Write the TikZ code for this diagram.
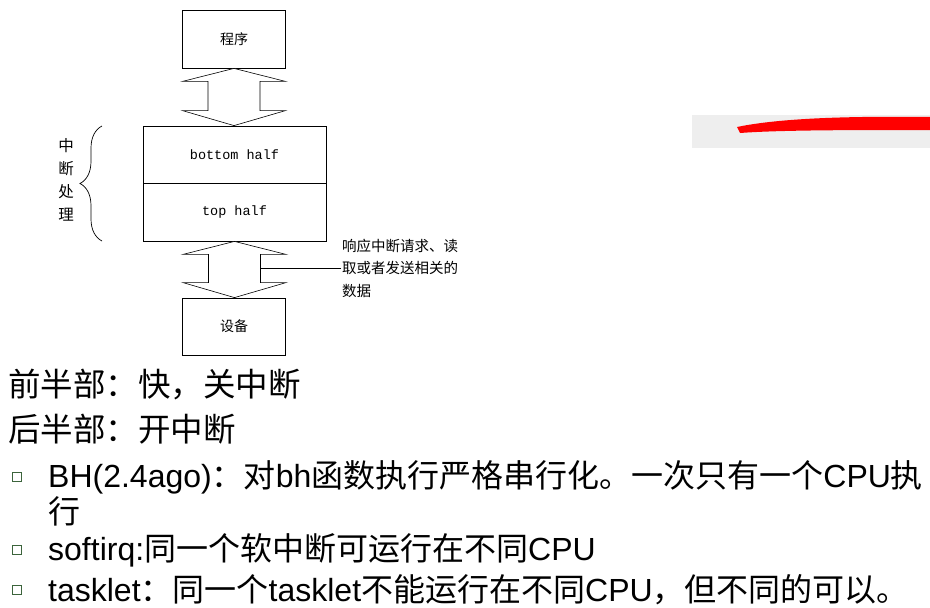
\documentclass[tikz,border=0pt]{standalone}
\usepackage{fontspec}
\setmainfont{Liberation Sans}
\newfontfamily\cjk{Noto Sans CJK SC}
\newfontfamily\monof{Liberation Mono}
\usetikzlibrary{calc,decorations.pathreplacing}
\definecolor{bulgreen}{RGB}{60,100,60}
\definecolor{panelgray}{RGB}{238,238,238}

% hollow double arrow between two stacked boxes
\newcommand\dblarrow[2]{%
  \draw[dbl] let \p1=(#1.south), \p2=(#2.north) in
    (\x1,\y1) -- ({\x1+51.5pt},{\y1-13pt}) -- ({\x1+26pt},{\y1-13pt})
    -- ({\x1+26pt},{\y2+15pt}) -- ({\x1+51.5pt},{\y2+15pt}) -- (\x1,\y2)
    -- ({\x1-51.5pt},{\y2+15pt}) -- ({\x1-26pt},{\y2+15pt})
    -- ({\x1-26pt},{\y1-13pt}) -- ({\x1-51.5pt},{\y1-13pt}) -- cycle;}

\begin{document}
\begin{tikzpicture}[x=1pt,y=-1pt,
  blk/.style={draw, line width=0.8pt, inner sep=0pt, font=\cjk\fontsize{14}{16}\selectfont},
  half/.style={blk, minimum width=183pt, minimum height=57.5pt, font=\monof\fontsize{13.5}{15}\selectfont},
  dbl/.style={draw, line width=0.6pt, fill=white},
  lab/.style={font=\cjk\fontsize{14.5}{22.5}\selectfont, align=left, inner sep=1pt},
  big/.style={anchor=west, inner sep=0pt, font=\cjk\fontsize{32.5}{34}\selectfont},
  txt/.style={anchor=west, inner sep=0pt, font=\fontsize{32}{34}\selectfont},
  bul/.style={draw=bulgreen, line width=1.4pt, minimum size=8.5pt, inner sep=0pt},
]
\useasboundingbox (0,0) rectangle (930,608);

% panel with red stroke
\fill[panelgray] (692,115) rectangle (930,148);
\fill[red] (737,127) .. controls (780,118) and (850,116) .. (930,117)
  -- (930,130) .. controls (850,130) and (780,130) .. (740,133) -- cycle;

% boxes
\node[blk, minimum width=103pt, minimum height=58pt] (prog) at (234,39) {程序};
\node[half] (bh) at (234.5,154.75) {bottom half};
\node[half] (th) at (234.5,212.25) {top half};
\node[blk, minimum width=103pt, minimum height=57pt] (dev) at (234,326.5) {设备};

\dblarrow{prog}{bh}
\dblarrow{th}{dev}

% interrupt handling brace
\draw[line width=0.7pt, decorate, decoration={brace, amplitude=22pt, aspect=0.5}]
  (102,241) -- (102,126);
\node[lab, align=center, font=\cjk\fontsize{15.5}{23}\selectfont] (ih) at (66,180) {中\\断\\处\\理};

% note on the lower arrow
\node[lab, anchor=west] (note) at (341,268) {响应中断请求、读\\取或者发送相关的\\数据};
\coordinate (shaft) at (260,268);
\draw[line width=0.6pt] (shaft) -- (note.west);

% text lines
\node[big] (fh) at (8,385) {前半部：快，关中断};
\node[big] (sh) at (8,429) {后半部：开中断};

\node[bul] (b1) at (17,477) {};
\node[txt] (t1) at (48,477) {BH(2.4ago){\cjk ：对}bh{\cjk 函数执行严格串行化。一次只有一个}CPU{\cjk 执}};
\node[txt] (t1b) at (48,511) {\cjk 行};
\node[bul] (b2) at (17,550) {};
\node[txt] (t2) at (48,550) {softirq:{\cjk 同一个软中断可运行在不同}CPU};
\node[bul] (b3) at (17,590) {};
\node[txt] (t3) at (48,590) {tasklet{\cjk ：同一个}tasklet{\cjk 不能运行在不同}CPU{\cjk ，但不同的可以。}};
\end{tikzpicture}
\end{document}
